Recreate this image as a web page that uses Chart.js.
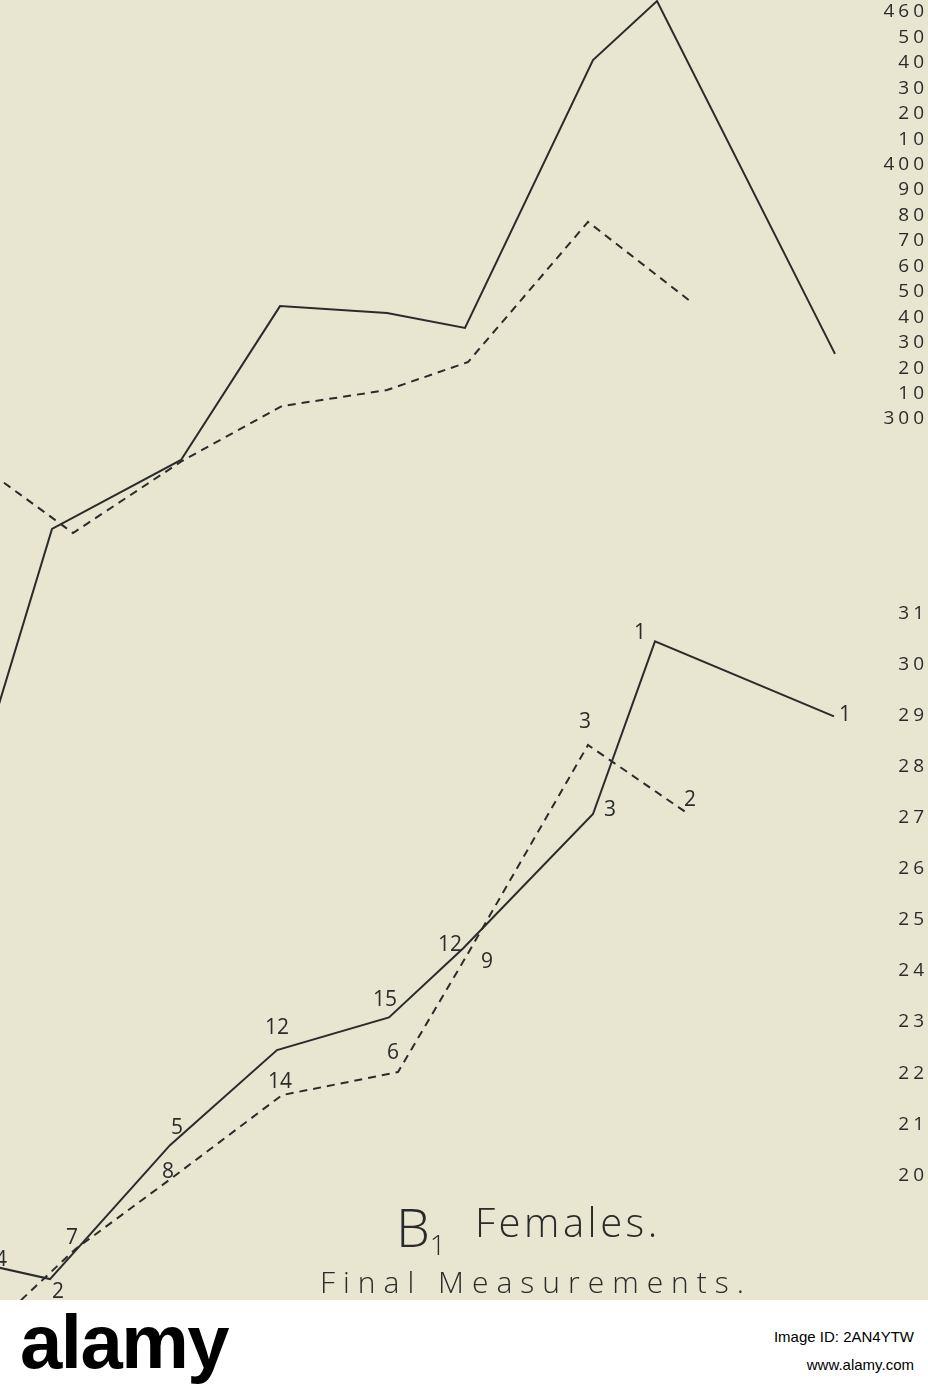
<!DOCTYPE html>
<html>
<head>
<meta charset="utf-8">
<script src="https://cdn.jsdelivr.net/npm/chart.js@4/dist/chart.umd.min.js"></script>
<style>
  body { margin: 0; background: #fff; }
  #plate { position: relative; width: 928px; height: 1300px; background: #e8e6d1; overflow: hidden; }
  #plate canvas { position: absolute; left: 0; top: 0; }
  .lbl { position: absolute; font-family: "Open Sans", sans-serif; color: #2a2a2a; white-space: nowrap; line-height: normal; }
  #footer { position: relative; width: 928px; height: 90px; background: #fff; font-family: "Liberation Sans", Arial, sans-serif; }
</style>
</head>
<body>
<div id="plate">
  <canvas id="topChart" width="928" height="1300"></canvas>
  <canvas id="bottomChart" width="928" height="1300"></canvas>
  <div class="lbl" style="left:396px; top:1189px; font-size:54px; font-weight:300;">B<span style="font-size:28px; position:relative; top:8px;">1</span></div>
  <div class="lbl" style="left:475px; top:1194px; font-size:40px; font-weight:300; letter-spacing:3.5px;">Females.</div>
  <div class="lbl" style="left:320px; top:1261px; font-size:30px; font-weight:300; letter-spacing:8px;">Final Measurements.</div>
</div>
<div id="footer">
  <div style="position:absolute; left:20px; top:-2px; font-size:76px; font-weight:bold; letter-spacing:-1.5px;">alamy</div>
  <div style="position:absolute; right:14px; top:28px; font-size:15px;">Image ID: 2AN4YTW</div>
  <div style="position:absolute; right:14px; top:56px; font-size:15px;">www.alamy.com</div>
</div>

<script>
// x positions are in the plate's own units (0 .. 84 across the drawing)
// upper panel, scale 300 - 460
const topSolidX = [-3, 5.2, 18.1, 28.0, 38.7, 46.5, 59.3, 65.7, 83.5];
const topSolidY = [150.3, 256.8, 283.9, 344.4, 341.7, 335.8, 441.1, 464.3, 325.6];
const topDashX = [-3, 7.3, 18.2, 28.2, 38.7, 46.8, 58.8, 69.0];
const topDashY = [284.7, 255.2, 283.5, 305.1, 311.4, 322.4, 377.5, 346.4];
const topTicks = [300, 310, 320, 330, 340, 350, 360, 370, 380, 390, 400, 410, 420, 430, 440, 450, 460];

// lower panel, scale 20 - 31, with numbers of individuals at each point
const botSolidX = [-3, 5.0, 17.0, 27.7, 38.9, 46.3, 59.3, 65.5, 83.4];
const botSolidY = [18.32, 17.97, 20.59, 22.45, 23.09, 24.44, 27.07, 30.45, 28.98];
const botSolidN = [4, 2, 5, 12, 15, 12, 3, 1, 1];
const botDashX = [-3, 7.5, 17.0, 28.2, 39.8, 46.7, 58.8, 68.7];
const botDashY = [16.62, 18.55, 19.92, 21.57, 22.02, 24.31, 28.42, 27.09];
const botDashN = [null, 7, 8, 14, 6, 9, 3, 2];
const botTicks = [20, 21, 22, 23, 24, 25, 26, 27, 28, 29, 30, 31];

// where each count sits relative to its point (px)
const botSolidOff = [[31, -1], [8, 13], [7, -17], [0, -22], [-4, -17], [-13, -3], [17, -4], [-15, -8], [11, -1]];
const botDashOff = [[0, 0], [-3, -11], [-2, -7], [-2, -13], [-5, -19], [20, 7], [-3, -23], [3, -13]];

const ink = '#2b2b2b';

function pts(xs, ys) {
    return xs.map((x, i) => ({x: x, y: ys[i]}));
}

const inkSpacing = {
    id: 'inkSpacing',
    beforeDraw(chart) {
        chart.ctx.letterSpacing = '4px';
    }
};

const countLabels = {
    id: 'countLabels',
    afterDatasetsDraw(chart) {
        const c = chart.ctx;
        c.save();
        c.letterSpacing = '0px';
        c.font = '21px "Open Sans"';
        c.fillStyle = ink;
        c.textAlign = 'center';
        c.textBaseline = 'middle';
        chart.data.datasets.forEach((ds, i) => {
            if (!ds.counts) return;
            chart.getDatasetMeta(i).data.forEach((p, j) => {
                const n = ds.counts[j];
                if (n == null) return;
                const off = ds.countOffsets[j];
                c.fillText(String(n), p.x + off[0], p.y + off[1]);
            });
        });
        c.restore();
    }
};

function plateOptions(yMin, yMax, ticks, fmt) {
    return {
        responsive: false,
        animation: false,
        layout: { padding: 0 },
        elements: {
            point: { radius: 0 },
            line: { tension: 0, borderColor: ink, borderWidth: 2 }
        },
        plugins: {
            legend: { display: false },
            tooltip: { enabled: false }
        },
        scales: {
            x: { type: 'linear', min: 0, max: 84, display: false },
            y: {
                position: 'right',
                min: yMin,
                max: yMax,
                grid: { display: false, drawTicks: false },
                border: { display: false },
                afterBuildTicks: (axis) => {
                    axis.ticks = ticks.map(v => ({value: v}));
                },
                afterFit: (axis) => {
                    // fixed strip for the numbers, no extra room above/below
                    axis.width = 88;
                    axis.paddingTop = 0;
                    axis.paddingBottom = 0;
                },
                ticks: {
                    crossAlign: 'far',
                    padding: 0,
                    color: ink,
                    font: { family: '"Open Sans"', size: 19 },
                    callback: fmt
                }
            }
        }
    };
}

const ctx = document.getElementById('topChart').getContext('2d');
const topChart = new Chart(ctx, {
    type: 'line',
    data: {
        datasets: [{
            data: pts(topSolidX, topSolidY),
            borderColor: ink
        }, {
            data: pts(topDashX, topDashY),
            borderColor: ink,
            borderDash: [8, 6]
        }]
    },
    options: plateOptions(-46.3, 464.72, topTicks, (v) => (v % 100 === 0 || v === 460) ? String(v) : String(v % 100)),
    plugins: [inkSpacing]
});

const ctx2 = document.getElementById('bottomChart').getContext('2d');
const bottomChart = new Chart(ctx2, {
    type: 'line',
    data: {
        datasets: [{
            data: pts(botSolidX, botSolidY),
            borderColor: ink,
            counts: botSolidN,
            countOffsets: botSolidOff
        }, {
            data: pts(botDashX, botDashY),
            borderColor: ink,
            borderDash: [8, 6],
            counts: botDashN,
            countOffsets: botDashOff
        }]
    },
    options: plateOptions(17.56, 43.0, botTicks, (v) => String(v)),
    plugins: [inkSpacing, countLabels]
});
</script>
</body>
</html>
